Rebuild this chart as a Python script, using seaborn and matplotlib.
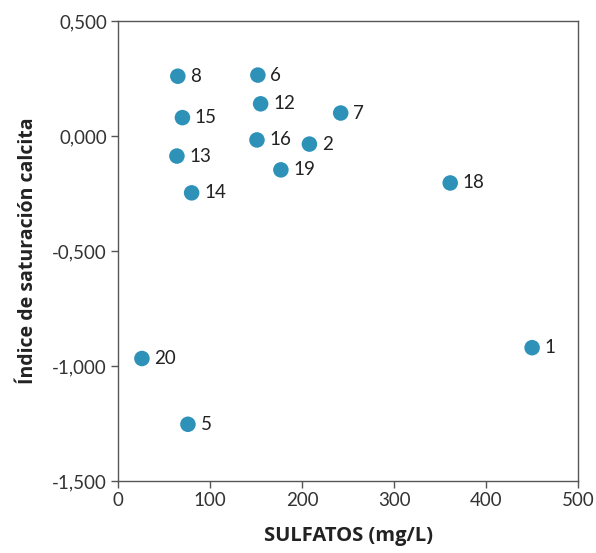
import numpy as np
import matplotlib
matplotlib.use("Agg")
import matplotlib.pyplot as plt
import seaborn as sns
import pandas as pd
from matplotlib.ticker import FuncFormatter

# datos
muestras = ['8', '6', '12', '15', '7', '16', '2', '13', '19', '14', '18', '20', '1', '5']
sulfatos = [65, 152, 155, 70, 242, 151, 208, 64, 177, 80, 361, 26, 450, 76]
indice = [0.26, 0.265, 0.14, 0.08, 0.10, -0.017, -0.035, -0.087, -0.147, -0.247, -0.204, -0.967, -0.92, -1.253]

df = pd.DataFrame({'muestra': muestras, 'sulfatos': sulfatos, 'indice': indice})

sns.set_theme(style="white")
plt.rcParams['font.family'] = ['Lato', 'DejaVu Sans']

fig = plt.figure(figsize=(5.96, 5.53), dpi=100)
ax = fig.add_axes([0.198, 0.130, 0.772, 0.832])

sns.scatterplot(data=df, x='sulfatos', y='indice', ax=ax, s=125,
                color='#2E92B8', edgecolor='none', zorder=3)

for _, r in df.iterrows():
    ax.annotate(r['muestra'], (r['sulfatos'], r['indice']), xytext=(9, 0),
                textcoords='offset points', va='center', ha='left',
                fontsize=13.5, color='#222222')

ax.set_xlim(0, 500)
ax.set_ylim(-1.5, 0.5)
ax.set_xticks([0, 100, 200, 300, 400, 500])
ax.set_yticks([-1.5, -1.0, -0.5, 0.0, 0.5])
ax.yaxis.set_major_formatter(FuncFormatter(lambda v, p: f"{v:.3f}".replace('.', ',')))

for s in ax.spines.values():
    s.set_color('#555555')
    s.set_linewidth(1.0)
ax.tick_params(axis='both', direction='out', length=5, width=1, color='#555555',
               labelsize=13.5, labelcolor='#333333', pad=3, left=True, bottom=True)

ax.set_xlabel('SULFATOS (mg/L)', fontsize=14.5, fontweight='bold', color='#222222',
              labelpad=12, family=['Open Sans', 'DejaVu Sans'])
ax.set_ylabel('Índice de saturación calcita', fontsize=14, fontweight='bold', color='#222222',
              labelpad=10, family=['Open Sans', 'DejaVu Sans'])

fig.savefig('out.png', dpi=100)
